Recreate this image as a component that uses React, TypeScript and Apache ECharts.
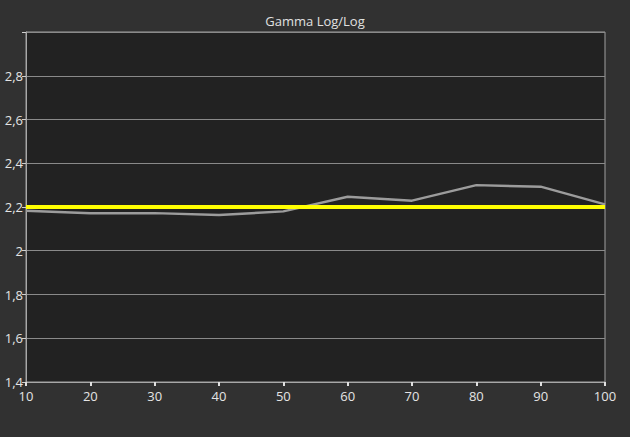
import { useRef, useEffect } from "react";
import * as echarts from "echarts";

// x positions (% stimulus) and measured gamma
const levels = [10, 20, 30, 40, 50, 60, 70, 80, 90, 100];
const gamma = [2.183, 2.171, 2.172, 2.163, 2.18, 2.247, 2.229, 2.3, 2.293, 2.212];
const target = 2.2;

const fmt = (v: number) => {
  if (v > 2.99) return "";
  return String(+v.toFixed(1)).replace(".", ",");
};

const option = {
  animation: false,
  backgroundColor: "#313131",
  title: {
    text: "Gamma Log/Log",
    left: "center",
    top: 9,
    textStyle: {
      color: "#e0e0e0",
      fontSize: 13,
      fontWeight: "normal",
      fontFamily: "Open Sans",
    },
  },
  grid: {
    left: 26,
    right: 25,
    top: 32,
    bottom: 55,
    show: true,
    backgroundColor: "#222222",
    borderColor: "#a0a0a0",
    borderWidth: 1,
  },
  xAxis: {
    type: "value",
    min: 10,
    max: 100,
    interval: 10,
    axisLine: { show: true, lineStyle: { color: "#a8a8a8", width: 1 } },
    axisTick: { show: true, length: 4, lineStyle: { color: "#e0e0e0", width: 2 } },
    splitLine: { show: false },
    axisLabel: {
      color: "#e4e4e4",
      fontSize: 13,
      fontFamily: "Open Sans",
      margin: 7,
    },
  },
  yAxis: {
    type: "value",
    min: 1.4,
    max: 3.0,
    interval: 0.2,
    axisLine: { show: true, lineStyle: { color: "#a8a8a8", width: 1 } },
    axisTick: { show: true, length: 4, lineStyle: { color: "#d0d0d0" } },
    splitLine: { show: true, lineStyle: { color: "#8a8a8a", width: 1 } },
    axisLabel: {
      color: "#e4e4e4",
      fontSize: 13,
      fontFamily: "Open Sans",
      margin: 3,
      formatter: fmt,
    },
  },
  series: [
    {
      type: "line",
      data: levels.map((x, i) => [x, gamma[i]]),
      symbol: "none",
      lineStyle: { color: "#9c9c9c", width: 2.5 },
      z: 2,
    },
    {
      type: "line",
      data: [
        [levels[0], target],
        [levels[levels.length - 1], target],
      ],
      symbol: "none",
      lineStyle: { color: "#ffff00", width: 4 },
      z: 3,
    },
  ],
};

const App = () => {
  const chartRef = useRef<HTMLDivElement>(null);

  useEffect(() => {
    document.body.style.margin = "0";
    const myChart = echarts.init(chartRef.current, null, { renderer: "svg" });
    myChart.setOption(option);
    return () => {
      myChart.dispose();
    };
  }, []);

  return <div ref={chartRef} style={{ width: "630px", height: "437px" }}></div>;
};

export default App;
